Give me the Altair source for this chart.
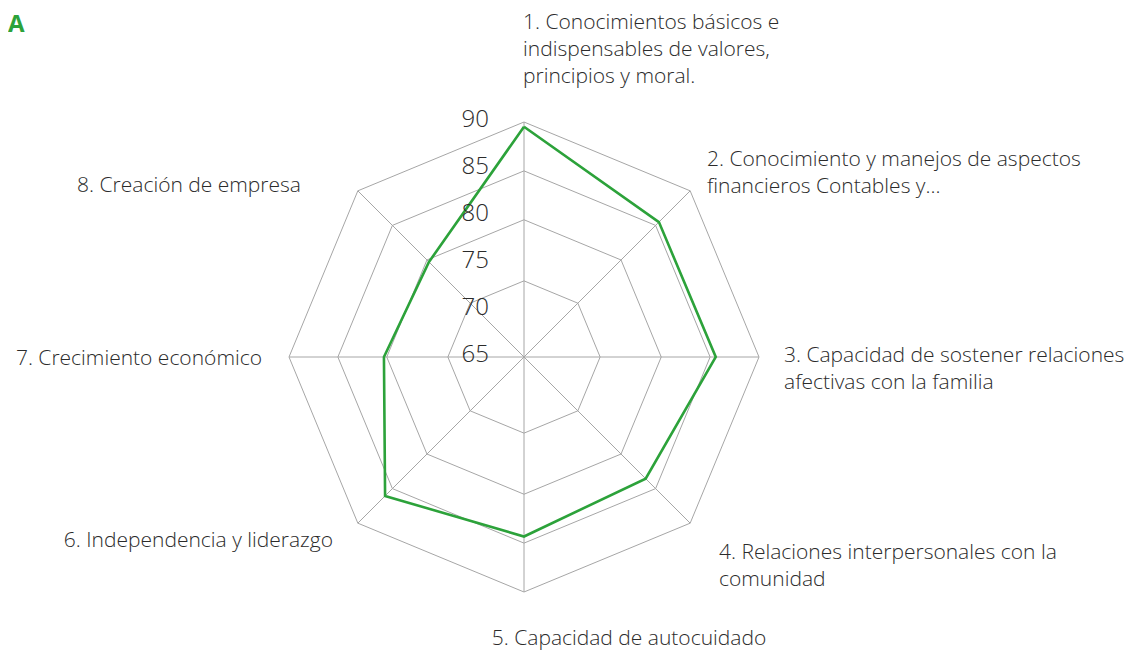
import math
import altair as alt
import pandas as pd

# ---- data ----
categories = [
    "1. Conocimientos básicos e indispensables de valores, principios y moral.",
    "2. Conocimiento y manejos de aspectos financieros Contables y...",
    "3. Capacidad de sostener relaciones afectivas con la familia",
    "4. Relaciones interpersonales con la comunidad",
    "5. Capacidad de autocuidado",
    "6. Independencia y liderazgo",
    "7. Crecimiento económico",
    "8. Creación de empresa",
]
values = [89.5, 85.3, 85.4, 83.3, 84.1, 85.9, 79.9, 79.3]
ring_levels = [73.1, 79.6, 84.8, 90.0]
tick_values = [65, 70, 75, 80, 85, 90]
r_min = 65

# label text split into lines
label_lines = [
    ["1. Conocimientos básicos e", "indispensables de valores,", "principios y moral."],
    ["2. Conocimiento y manejos de aspectos", "financieros Contables y..."],
    ["3. Capacidad de sostener relaciones", "afectivas con la familia"],
    ["4. Relaciones interpersonales con la", "comunidad"],
    ["5. Capacidad de autocuidado"],
    ["6. Independencia y liderazgo"],
    ["7. Crecimiento económico"],
    ["8. Creación de empresa"],
]

# ---- layout ----
W, H = 1129, 642
CX, CY = 516, 349          # centre in chart pixels
PPU = 9.4                  # pixels per unit
FONT = "Open Sans"
TXT = "#2b2b2b"
GRID = "#a6a6a6"
GREEN = "#2ca23a"

n = len(categories)
angles = [2 * math.pi * i / n for i in range(n)]

def polar(r, a):
    return r * math.sin(a), r * math.cos(a)

xs = alt.Scale(domain=[-CX / PPU, (W - CX) / PPU], nice=False, zero=False)
ys = alt.Scale(domain=[-(H - CY) / PPU, CY / PPU], nice=False, zero=False)

def X(field):
    return alt.X(field, type="quantitative", scale=xs, axis=None)

def Y(field):
    return alt.Y(field, type="quantitative", scale=ys, axis=None)

# rings
ring_rows = []
for lv in ring_levels:
    for k in range(n + 1):
        x, y = polar(lv - r_min, angles[k % n])
        ring_rows.append({"ring": lv, "k": k, "x": x, "y": y})
rings = alt.Chart(pd.DataFrame(ring_rows)).mark_line(
    color=GRID, strokeWidth=1
).encode(x=X("x"), y=Y("y"), detail="ring:N", order="k:Q")

# spokes
spoke_rows = []
for a in angles:
    x, y = polar(ring_levels[-1] - r_min, a)
    spoke_rows.append({"x": 0.0, "y": 0.0, "x2": x, "y2": y})
spokes = alt.Chart(pd.DataFrame(spoke_rows)).mark_rule(
    color=GRID, strokeWidth=1
).encode(x=X("x"), y=Y("y"), x2="x2:Q", y2="y2:Q")

# data polygon
poly_rows = []
for k in range(n + 1):
    v = values[k % n]
    x, y = polar(v - r_min, angles[k % n])
    poly_rows.append({"cat": categories[k % n], "k": k, "value": v, "x": x, "y": y})
poly = alt.Chart(pd.DataFrame(poly_rows)).mark_line(
    color=GREEN, strokeWidth=2.6, strokeJoin="miter"
).encode(x=X("x"), y=Y("y"), order="k:Q")

# radial tick labels
tick_df = pd.DataFrame({"t": tick_values, "x": [0.0] * len(tick_values),
                        "y": [t - r_min for t in tick_values],
                        "lab": [str(t) for t in tick_values]})
ticks = alt.Chart(tick_df).mark_text(
    align="right", baseline="middle", font=FONT, fontSize=24, fontWeight=300,
    color=TXT, dx=-35, dy=-2
).encode(x=X("x"), y=Y("y"), text="lab:N")

# category labels (annotation placement)
label_pos = [
    ("left", 515, 21), ("left", 699, 158), ("left", 776, 354), ("left", 711, 551),
    ("center", 621, 637), ("right", 325, 539), ("right", 254, 357), ("right", 293, 184),
]
label_layers = []
for lines, (al, px, py) in zip(label_lines, label_pos):
    label_layers.append(
        alt.Chart(pd.DataFrame({"t": ["\n".join(lines)]})).mark_text(
            align=al, baseline="alphabetic", font=FONT, fontSize=21, fontWeight=300,
            color=TXT, lineBreak="\n", lineHeight=27
        ).encode(x=alt.value(px), y=alt.value(py), text="t:N")
    )

corner = alt.Chart(pd.DataFrame({"t": ["A"]})).mark_text(
    align="left", baseline="alphabetic", font=FONT, fontSize=24, fontWeight="bold",
    color=GREEN
).encode(x=alt.value(0), y=alt.value(24), text="t:N")

chart = alt.layer(rings, spokes, poly, ticks, *label_layers, corner).properties(
    width=W, height=H, autosize=alt.AutoSizeParams(type="none"), padding=0,
    background="white"
).configure_view(strokeWidth=0)

chart.save("out.html", embed_options={"renderer": "svg", "actions": False})
